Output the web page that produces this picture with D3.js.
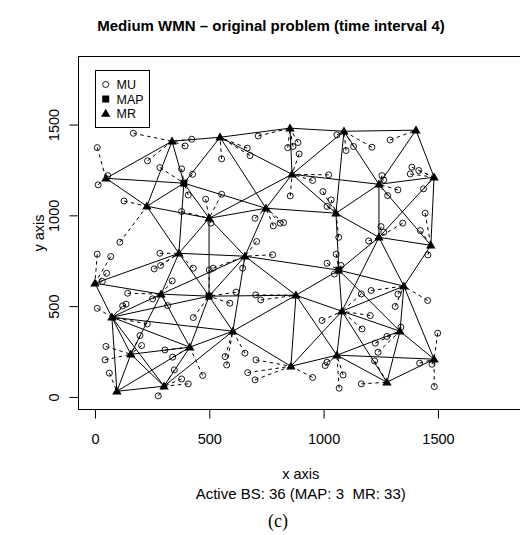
<!DOCTYPE html>
<html><head><meta charset="utf-8">
<script src="https://cdn.jsdelivr.net/npm/d3@7"></script>
<style>body{margin:0;background:#fff}svg{display:block}text{white-space:pre}</style>
</head><body>
<svg id="c" width="520" height="535"></svg>
<script>
// ---- data ----
const bsNames = ["A","B","C","M1","D","E","F","G","H","I","J","K","L","N","O","P","Q","R","S","M2","T","U","V","W","X","Y","Z","M3","a","b","c","d","e","f","g","h"];
const bsType  = ["MR","MR","MR","MAP","MR","MR","MR","MR","MR","MR","MR","MR","MR","MR","MR","MR","MR","MR","MR","MAP","MR","MR","MR","MR","MR","MR","MR","MAP","MR","MR","MR","MR","MR","MR","MR","MR"];
const bsX = [337,547,48,389,227,499,748,367,656,853,1089,1404,862,1242,1483,1054,1242,1469,0,499,289,74,603,415,157,96,302,1067,1351,879,1080,1334,1058,857,1483,1277];
const bsY = [1408,1430,1204,1177,1050,984,1039,791,775,1480,1463,1469,1226,1171,1210,1012,879,835,626,555,566,439,362,274,235,31,59,698,610,560,472,362,230,169,208,81];

const muX = [168,423,394,714,666,678,554,10,230,284,379,427,56,14,408,554,484,127,379,507,700,780,707,109,10,69,284,777,
  1058,843,866,888,893,1098,1131,1211,1291,1386,1416,1379,1022,952,1255,1263,1325,1280,1437,997,854,1033,1015,1444,1346,1251,1263,1423,1197,1066,1055,1456,810,825,
  51,32,259,287,430,338,500,517,646,143,252,318,10,121,136,617,590,703,725,430,229,197,204,48,306,340,44,63,347,379,408,569,576,471,277,656,704,668,700,
  1015,1076,1047,1208,1165,1325,1455,1313,1204,993,1168,1338,1277,1226,1499,1238,1223,1015,1007,1085,952,1068,1165,1420,1474,1484];
const muY = [1452,1419,1382,1437,1370,1329,1311,1373,1300,1263,1256,1226,1219,1168,1112,1116,1089,1079,1021,957,984,942,856,852,786,773,791,783,
  1443,1373,1379,1401,1338,1357,1379,1375,1415,1265,1247,1228,1223,1192,1219,1195,1140,1109,1146,1131,1107,1085,1049,1012,957,938,907,916,859,879,786,782,957,960,
  681,636,705,724,709,639,699,709,709,571,540,503,488,501,511,577,516,562,534,437,402,338,283,278,259,219,204,131,149,99,72,222,176,118,6,241,204,134,94,
  736,724,677,586,567,566,531,498,448,421,374,384,333,296,351,246,198,191,173,121,107,48,72,186,180,57];

const linkFrom = ["A","B","I","J","A","A","A","B","B","B","C","C","M1","M1","M1","M1","D","D","E","E","E","E","E","F","F","F","G","G","G","G","I","J","J","J","K","K","L","L","N","N","N","N","O","O","Q","P","P","M3","M3","M3","M3","M3","M3","Q","Q","R","a","a","a","b","b","b","b","b","b","c","c","c","c","d","d","d","e","e","e","g","S","S","T","T","T","T","T","U","U","U","U","U","U","X","X","X","W","W","W","W","Y","Z","V","V","V","M2"];
const linkTo   = ["B","I","J","K","C","M1","D","M1","F","L","M1","D","D","E","F","G","E","G","F","G","H","M2","L","H","L","P","H","S","T","M2","L","L","P","N","N","O","N","P","O","P","Q","R","R","Q","R","Q","M3","H","a","b","c","d","Q","a","c","a","c","d","g","c","f","e","M2","H","V","e","d","h","f","e","g","h","f","g","h","h","T","U","M2","H","U","X","W","M2","V","W","X","Y","Z","W","Y","Z","M2","V","Z","Y","Z","V","M2","H","f","H"];

const xTicks = [0,500,1000,1500];
const yTicks = [0,500,1000,1500];
const legendLabels = ["MU","MAP","MR"];
const titleText = "Medium WMN \u2013 original problem (time interval 4)";
const xLabel = "x axis";
const subLabel = "Active BS: 36 (MAP: 3  MR: 33)";
const yLabel = "y axis";
const caption = "(c)";

// ---- drawing ----
const svg = d3.select("#c");
const font = "'Liberation Sans', Arial, Helvetica, sans-serif";
const x = d3.scaleLinear().domain([-72,1872]).range([78.5,523]);
const y = d3.scaleLinear().domain([-72,1872]).range([410,57]);

const bs = bsNames.map((n,i)=>({name:n,type:bsType[i],x:bsX[i],y:bsY[i]}));
const bsBy = new Map(bs.map(d=>[d.name,d]));
const mu = muX.map((v,i)=>({x:v,y:muY[i]}));
mu.forEach(m=>{
  let best=null,bd=Infinity;
  bs.forEach(b=>{const d=(b.x-m.x)**2+(b.y-m.y)**2; if(d<bd){bd=d;best=b;}});
  m.bs=best;
});

const plot = svg.append("g");
plot.selectAll("line.lk").data(linkFrom.map((f,i)=>[bsBy.get(f),bsBy.get(linkTo[i])]))
  .join("line").attr("class","lk")
  .attr("x1",d=>x(d[0].x)).attr("y1",d=>y(d[0].y))
  .attr("x2",d=>x(d[1].x)).attr("y2",d=>y(d[1].y))
  .attr("stroke","#000").attr("stroke-width",1);
plot.selectAll("line.mu").data(mu).join("line").attr("class","mu")
  .attr("x1",d=>x(d.x)).attr("y1",d=>y(d.y))
  .attr("x2",d=>x(d.bs.x)).attr("y2",d=>y(d.bs.y))
  .attr("stroke","#000").attr("stroke-width",1).attr("stroke-dasharray","3.5,3.5");
plot.selectAll("circle.mu").data(mu).join("circle").attr("class","mu")
  .attr("cx",d=>x(d.x)).attr("cy",d=>y(d.y)).attr("r",3)
  .attr("fill","none").attr("stroke","#000").attr("stroke-width",0.9);
const tri = "M0,-4.7L4.7,3.3L-4.7,3.3Z";
const sq = "M-3.5,-3.5H3.5V3.5H-3.5Z";
plot.selectAll("path.bs").data(bs).join("path").attr("class","bs")
  .attr("d",d=>d.type==="MAP"?sq:tri)
  .attr("transform",d=>`translate(${x(d.x)},${y(d.y)})`)
  .attr("fill","#000");

svg.append("rect").attr("x",78.5).attr("y",56.5).attr("width",445).attr("height",353)
  .attr("fill","none").attr("stroke","#000").attr("stroke-width",1);

const gx = svg.append("g").attr("transform","translate(0,409.5)")
  .call(d3.axisBottom(x).tickValues(xTicks).tickSize(9).tickPadding(15).tickFormat(d3.format("d")));
gx.select(".domain").remove();
gx.selectAll("text").attr("font-family",font).attr("font-size",14.5).attr("fill","#000");
const gy = svg.append("g").attr("transform","translate(78.5,0)")
  .call(d3.axisLeft(y).tickValues(yTicks).tickSize(9).tickFormat(d3.format("d")));
gy.select(".domain").remove();
gy.selectAll("text").attr("x",null).attr("dy",null).attr("text-anchor","middle")
  .attr("transform","translate(-20,0) rotate(-90)")
  .attr("font-family",font).attr("font-size",14.5).attr("fill","#000");

const lg = svg.append("g");
lg.append("rect").attr("x",95.5).attr("y",70.5).attr("width",54).attr("height",57)
  .attr("fill","#fff").attr("stroke","#000").attr("stroke-width",1);
const ly = [84.5,99,113.5];
legendLabels.forEach((t,i)=>{
  if(i===0) lg.append("circle").attr("cx",105.7).attr("cy",ly[i]).attr("r",3).attr("fill","none").attr("stroke","#000").attr("stroke-width",0.9);
  else lg.append("path").attr("d",i===1?sq:tri).attr("transform",`translate(105.7,${ly[i]})`).attr("fill","#000");
  lg.append("text").attr("x",116.5).attr("y",ly[i]).attr("dy","0.36em").text(t)
    .attr("font-family",font).attr("font-size",12.5).attr("fill","#000");
});

svg.append("text").attr("x",271).attr("y",31).attr("text-anchor","middle").text(titleText)
  .attr("font-family",font).attr("font-size",15).attr("font-weight","bold");
svg.append("text").attr("x",300.7).attr("y",479).attr("text-anchor","middle").text(xLabel)
  .attr("font-family",font).attr("font-size",14.5);
svg.append("text").attr("x",300.7).attr("y",499).attr("text-anchor","middle").attr("xml:space","preserve").text(subLabel)
  .attr("font-family",font).attr("font-size",15);
svg.append("text").attr("transform","translate(44,233) rotate(-90)").attr("text-anchor","middle").text(yLabel)
  .attr("font-family",font).attr("font-size",14.5);
svg.append("text").attr("x",278).attr("y",527).attr("text-anchor","middle").text(caption)
  .attr("font-family","'Liberation Serif', 'DejaVu Serif', serif").attr("font-size",18);
</script>
</body></html>
